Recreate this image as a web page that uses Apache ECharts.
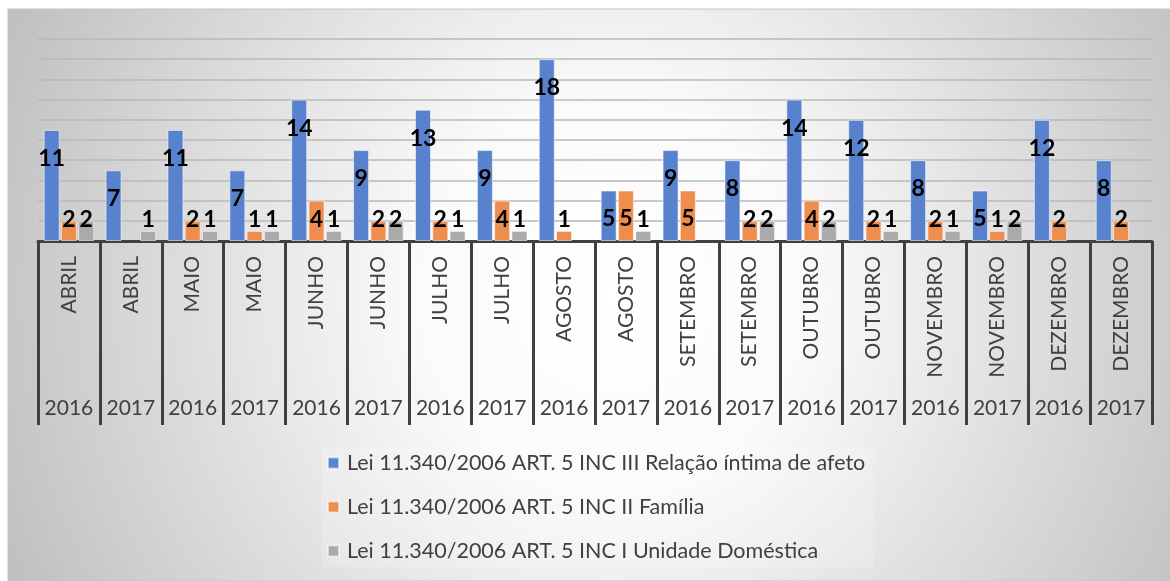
<!DOCTYPE html>
<html>
<head>
<meta charset="utf-8">
<script src="https://cdn.jsdelivr.net/npm/echarts@6/dist/echarts.min.js"></script>
<style>
html,body{margin:0;padding:0;background:#ffffff;}
#chart{width:1170px;height:581px;}
</style>
</head>
<body>
<div id="chart"></div>
<script>
const months = ['ABRIL','ABRIL','MAIO','MAIO','JUNHO','JUNHO','JULHO','JULHO','AGOSTO','AGOSTO','SETEMBRO','SETEMBRO','OUTUBRO','OUTUBRO','NOVEMBRO','NOVEMBRO','DEZEMBRO','DEZEMBRO'];
const years = ['2016','2017','2016','2017','2016','2017','2016','2017','2016','2017','2016','2017','2016','2017','2016','2017','2016','2017'];
const seriesNames = [
  'Lei 11.340/2006 ART. 5 INC III Relação íntima de afeto',
  'Lei 11.340/2006 ART. 5 INC II Família',
  'Lei 11.340/2006 ART. 5 INC I Unidade Doméstica'
];
const afeto     = [11, 7, 11, 7, 14, 9, 13, 9, 18, 5, 9, 8, 14, 12, 8, 5, 12, 8];
const familia   = [2, null, 2, 1, 4, 2, 2, 4, 1, 5, 5, 2, 4, 2, 2, 1, 2, 2];
const domestica = [2, 1, 1, 1, 1, 2, 1, 1, null, 1, null, 2, 2, 1, 1, 2, null, null];

const colors = ['#5882CE', '#EE8E4E', '#AAAAAA'];
const FONT = 'Lato';

function withLabels(arr) {
  return arr.map(v => {
    if (v === null) return null;
    const small = v < 5;
    return {
      value: v,
      label: small
        ? { position: 'insideBottom', distance: 10 }
        : { position: 'insideTop', distance: 17 }
    };
  });
}

function barSeries(name, arr, color) {
  return {
    name: name,
    type: 'bar',
    xAxisIndex: 0,
    barWidth: 16,
    barGap: '8%',
    itemStyle: { color: color, borderColor: 'rgba(255,255,255,0.55)', borderWidth: 1 },
    label: {
      show: true,
      color: '#000000',
      fontFamily: FONT,
      fontWeight: 'bold',
      fontSize: 23
    },
    data: withLabels(arr)
  };
}

const chart = echarts.init(document.getElementById('chart'), null, { renderer: 'canvas' });
chart.setOption({
  animation: false,
  graphic: [{
    type: 'rect',
    z: -10,
    silent: true,
    shape: { x: 8, y: 9, width: 1162, height: 572 },
    style: {
      fill: {
        type: 'radial', x: 0.52, y: 0.5, r: 1.15,
        colorStops: [
          { offset: 0, color: '#ffffff' },
          { offset: 0.3, color: '#fafafa' },
          { offset: 1, color: '#c0c0c0' }
        ]
      },
      stroke: '#c4c4c4',
      lineWidth: 1
    }
  }],
  grid: { left: 38, right: 18, top: 39, bottom: 340, containLabel: false },
  legend: {
    orient: 'vertical',
    left: 322,
    top: 447,
    padding: [5, 8, 5, 5],
    backgroundColor: 'rgba(255,255,255,0.18)',
    itemWidth: 11,
    itemHeight: 11,
    itemGap: 22,
    icon: 'rect',
    textStyle: { fontFamily: FONT, fontSize: 21.5, color: '#404040', padding: [0, 0, 0, 3] },
    data: seriesNames
  },
  xAxis: [
    {
      type: 'category',
      data: months,
      position: 'bottom',
      axisLine: { show: true, lineStyle: { color: '#404040', width: 3 } },
      axisTick: { show: true, length: 184, lineStyle: { color: '#404040', width: 3 } },
      axisLabel: { rotate: 90, margin: 15, fontFamily: FONT, fontSize: 21, color: '#404040', interval: 0 },
      splitLine: { show: false }
    },
    {
      type: 'category',
      data: years,
      position: 'bottom',
      axisLine: { show: false },
      axisTick: { show: false },
      axisLabel: { margin: 157, fontFamily: FONT, fontSize: 21, color: '#404040', interval: 0 },
      splitLine: { show: false }
    }
  ],
  yAxis: {
    type: 'value',
    min: 0,
    max: 20,
    interval: 2,
    axisLine: { show: false },
    axisTick: { show: false },
    axisLabel: { show: false },
    splitLine: { show: true, lineStyle: { color: '#b9b9b9', width: 1.5 } }
  },
  series: [
    barSeries(seriesNames[0], afeto, colors[0]),
    barSeries(seriesNames[1], familia, colors[1]),
    barSeries(seriesNames[2], domestica, colors[2])
  ]
});
</script>
</body>
</html>
